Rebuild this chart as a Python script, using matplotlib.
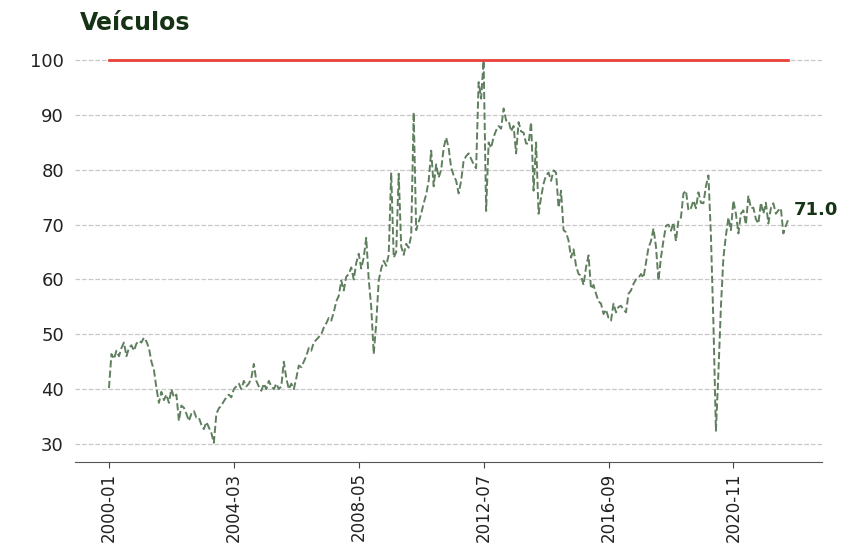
import matplotlib
matplotlib.use("Agg")
import matplotlib.pyplot as plt
import numpy as np
import pandas as pd

title = "Veículos"
start = "2000-01"
values = [
    # 2000
    40.2, 46.4, 45.5, 47.0, 46.0, 47.5, 48.5, 46.0, 47.5, 48.0, 47.0, 48.3,
    # 2001
    48.8, 48.5, 49.4, 48.7, 47.5, 45.0, 43.5, 40.2, 37.5, 39.5, 38.0, 39.0,
    # 2002
    37.5, 40.0, 38.5, 39.0, 34.2, 37.0, 36.6, 35.5, 34.2, 35.5, 36.0, 34.8,
    # 2003
    34.8, 33.5, 32.7, 34.0, 33.0, 32.0, 30.2, 35.5, 36.5, 37.0, 37.8, 38.5,
    # 2004
    39.0, 38.5, 40.0, 40.5, 41.0, 40.0, 41.5, 40.5, 41.0, 42.0, 44.6, 41.5,
    # 2005
    40.5, 39.7, 41.0, 40.0, 41.5, 40.5, 40.0, 41.0, 40.0, 40.5, 45.0, 42.0,
    # 2006
    40.0, 41.0, 40.0, 42.0, 44.3, 44.0, 45.0, 46.0, 47.5, 47.0, 48.5, 49.0,
    # 2007
    49.5, 50.0, 51.2, 52.0, 53.0, 52.5, 54.0, 56.0, 57.0, 59.8, 58.0, 60.5,
    # 2008
    61.0, 62.2, 60.0, 63.0, 64.7, 62.0, 64.0, 67.6, 60.0, 55.0, 46.4, 52.0,
    # 2009
    59.8, 62.0, 63.4, 62.5, 64.5, 79.5, 64.0, 65.0, 79.3, 66.0, 64.5, 66.5,
    # 2010
    65.8, 68.0, 90.5, 69.0, 70.5, 72.0, 73.9, 75.5, 78.0, 83.5, 77.0, 81.0,
    # 2011
    78.6, 80.0, 84.0, 85.9, 84.0, 80.4, 79.0, 78.0, 75.7, 78.0, 81.7, 82.5,
    # 2012
    83.0, 82.0, 81.0, 80.3, 96.0, 93.0, 100.0, 72.5, 85.0, 84.0, 86.0, 87.2,
    # 2013
    88.0, 87.5, 91.2, 89.0, 89.0, 87.0, 88.0, 83.0, 88.7, 87.0, 86.8, 84.8,
    # 2014
    84.8, 88.7, 76.2, 85.0, 72.0, 75.0, 77.5, 79.0, 79.5, 78.0, 79.9, 79.5,
    # 2015
    73.1, 76.2, 69.0, 68.6, 67.1, 64.0, 65.5, 62.5, 61.0, 60.7, 59.0, 62.2,
    # 2016
    64.4, 58.3, 59.0, 57.4, 56.0, 55.6, 53.7, 54.5, 53.0, 52.5, 55.6, 54.0,
    # 2017
    55.0, 55.2, 54.5, 54.0, 57.4, 58.0, 59.2, 60.0, 60.3, 61.0, 60.3, 63.0,
    # 2018
    65.8, 67.0, 69.3, 66.0, 59.8, 64.0, 67.1, 69.8, 70.0, 68.9, 70.4, 67.0,
    # 2019
    70.8, 71.3, 75.7, 76.2, 72.6, 73.0, 74.4, 73.0, 75.9, 74.0, 73.9, 77.0,
    # 2020
    79.0, 68.0, 52.0, 32.4, 43.0, 55.0, 64.0, 68.0, 71.3, 69.0, 74.4, 72.0,
    # 2021
    68.4, 72.0, 72.6, 70.0, 75.3, 73.0, 73.1, 71.0, 70.2, 74.0, 72.0, 74.0,
    # 2022
    70.2, 73.0, 73.9, 72.0, 72.6, 73.0, 68.4, 69.8, 71.0,
]
reference_level = 100
dates = pd.period_range(start=start, periods=len(values), freq="M").strftime("%Y-%m").tolist()
tick_step = 50

fig = plt.figure(figsize=(8.59, 5.48), dpi=100)
ax = fig.add_axes([0.0873, 0.157, 0.87, 0.768])

x = np.arange(len(values))
ax.plot(x, values, linestyle="--", color="#5f7f5f", linewidth=1.4)
ax.plot(x, [reference_level] * len(values), color="#e8403a", linewidth=2)

ax.set_xticks(x[::tick_step])
ax.set_xticklabels(dates[::tick_step], rotation=90, fontsize=12, color="#222222")
ax.tick_params(axis="y", length=0, labelsize=13, labelcolor="#222222", pad=8)
ax.tick_params(axis="x", length=4, color="#444444")

ax.set_yticks([30, 40, 50, 60, 70, 80, 90, 100])
ax.yaxis.grid(True, linestyle="--", color="#c8c8c8", linewidth=0.9)
ax.set_axisbelow(True)
for s in ["top", "right", "left"]:
    ax.spines[s].set_visible(False)
ax.spines["bottom"].set_color("#555555")

ax.text(len(values) + 1, values[-1], f"{values[-1]:.1f}", fontsize=13,
        fontweight="bold", color="#163316", va="bottom", ha="left")
ax.set_title(title, loc="left", fontsize=17, fontweight="bold", color="#163316",
             pad=8, x=0.007)

fig.savefig("out.png", dpi=100)
